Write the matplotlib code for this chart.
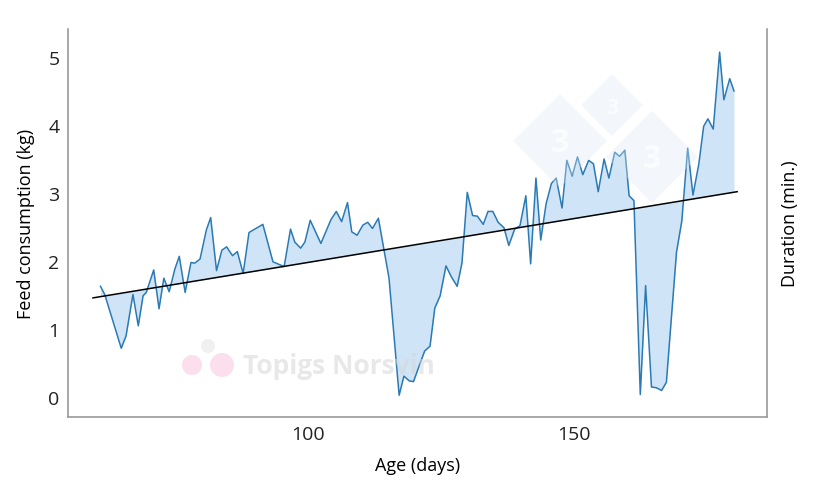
import matplotlib
matplotlib.use("Agg")
import matplotlib.pyplot as plt
from matplotlib.patches import Circle, RegularPolygon
import numpy as np

plt.rcParams["font.family"] = ["Open Sans", "DejaVu Sans"]

# Daily feed consumption (kg) by age (days)
age = [61.0, 61.8, 64.9, 65.8, 67.1, 68.1, 69.0, 69.6, 71.0, 72.0,
       72.9, 73.9, 75.0, 75.8, 76.9, 78.0, 78.7, 79.7, 80.9, 81.7,
       82.8, 83.8, 84.7, 85.8, 86.7, 87.8, 88.9, 91.5, 93.4, 95.5,
       96.7, 97.5, 98.6, 99.4, 100.4, 102.4, 104.3, 105.3, 106.3, 107.4,
       108.2, 109.2, 110.3, 111.2, 112.1, 113.2, 115.2, 117.1, 118.0, 119.0,
       119.8, 121.0, 121.9, 122.9, 123.8, 124.8, 125.9, 126.9, 128.0, 128.9,
       129.9, 130.9, 131.8, 132.9, 133.8, 134.7, 135.7, 136.8, 137.7, 138.8,
       139.8, 140.9, 141.8, 142.8, 143.7, 144.7, 145.7, 146.6, 147.7, 148.6,
       149.6, 150.6, 151.6, 152.7, 153.6, 154.5, 155.6, 156.5, 157.6, 158.5,
       159.5, 160.3, 161.2, 162.4, 163.4, 164.5, 165.4, 166.4, 167.3, 169.2,
       170.2, 171.3, 172.3, 173.4, 174.3, 175.1, 176.1, 177.3, 178.1, 179.2,
       180.0]
feed = [1.63, 1.51, 0.72, 0.90, 1.51, 1.05, 1.49, 1.54, 1.87, 1.30,
        1.75, 1.55, 1.89, 2.07, 1.54, 1.98, 1.97, 2.03, 2.46, 2.64,
        1.86, 2.16, 2.21, 2.08, 2.14, 1.82, 2.42, 2.54, 1.99, 1.92,
        2.47, 2.28, 2.19, 2.28, 2.60, 2.26, 2.61, 2.73, 2.58, 2.86,
        2.43, 2.38, 2.53, 2.57, 2.48, 2.63, 1.75, 0.03, 0.31, 0.24,
        0.23, 0.49, 0.68, 0.75, 1.31, 1.49, 1.93, 1.77, 1.63, 1.97,
        3.01, 2.67, 2.66, 2.54, 2.73, 2.73, 2.57, 2.49, 2.23, 2.47,
        2.52, 2.96, 1.96, 3.22, 2.31, 2.84, 3.14, 3.22, 2.78, 3.48,
        3.25, 3.53, 3.27, 3.48, 3.43, 3.02, 3.50, 3.22, 3.60, 3.54,
        3.63, 2.96, 2.89, 0.04, 1.64, 0.15, 0.14, 0.10, 0.22, 2.13,
        2.59, 3.66, 2.97, 3.43, 3.98, 4.09, 3.94, 5.07, 4.37, 4.68,
        4.50]

# Linear trend line end points
trend_age = [59.6, 180.6]
trend_feed = [1.46, 3.02]

y_ticks = [0, 1, 2, 3, 4, 5]
x_ticks = [100, 150]

line_color = "#2a7ab4"
fill_color = "#cfe4f6"

fig = plt.figure(figsize=(8.2, 4.81), dpi=100)
ax = fig.add_axes([68 / 820, 1 - 418 / 481, (767 - 68) / 820, (418 - 30) / 481])

trend_at_age = np.interp(age, trend_age, trend_feed)
ax.fill_between(age, feed, trend_at_age, color=fill_color, linewidth=0, zorder=1)
ax.plot(age, feed, color=line_color, linewidth=1.1, zorder=2)
ax.plot(trend_age, trend_feed, color="black", linewidth=1.1, zorder=3)

ax.set_xlim(54.9, 186.2)
ax.set_ylim(-0.29, 5.41)
ax.set_xticks(x_ticks)
ax.set_yticks(y_ticks)
ax.tick_params(length=0, labelsize=14, colors="#222222")
ax.tick_params(axis="y", pad=6)
ax.tick_params(axis="x", pad=6)

for side in ["left", "bottom", "right"]:
    ax.spines[side].set_color("#9a9a9a")
    ax.spines[side].set_linewidth(1.2)
ax.spines["top"].set_visible(False)

ax.set_xlabel("Age (days)", fontsize=13, labelpad=9)
ax.set_ylabel("Feed consumption (kg)", fontsize=13, labelpad=10)
ax2 = ax.twinx()
ax2.set_yticks([])
for side in ["left", "bottom", "right", "top"]:
    ax2.spines[side].set_visible(False)
ax2.set_ylabel("Duration (min.)", fontsize=13, labelpad=10)

# watermark logos, figure pixel coordinates
wm = fig.add_axes([0, 0, 1, 1], zorder=5)
wm.set_xlim(0, 820)
wm.set_ylim(481, 0)
wm.axis("off")
wm.patch.set_alpha(0)
for cx, cy, r in [(560, 142, 47), (612, 106, 31), (652, 158, 46)]:
    wm.add_patch(RegularPolygon((cx, cy), 4, radius=r, orientation=0,
                                color="#dfe8f2", alpha=0.35, linewidth=0))
    wm.text(cx, cy + 2, "3", ha="center", va="center", color="white",
            fontsize=r * 0.5, fontweight="bold", alpha=0.7)
wm.add_patch(Circle((208, 347), 7, color="#e6e6e6", alpha=0.6, linewidth=0))
wm.add_patch(Circle((192, 366), 10, color="#f7b9d5", alpha=0.45, linewidth=0))
wm.add_patch(Circle((222, 366), 12, color="#f7b9d5", alpha=0.45, linewidth=0))
wm.text(243, 367, "Topigs Norsvin", ha="left", va="center", fontsize=19,
        fontweight="bold", color="#d6d6d6", alpha=0.55)

fig.savefig("out.png", dpi=100)
